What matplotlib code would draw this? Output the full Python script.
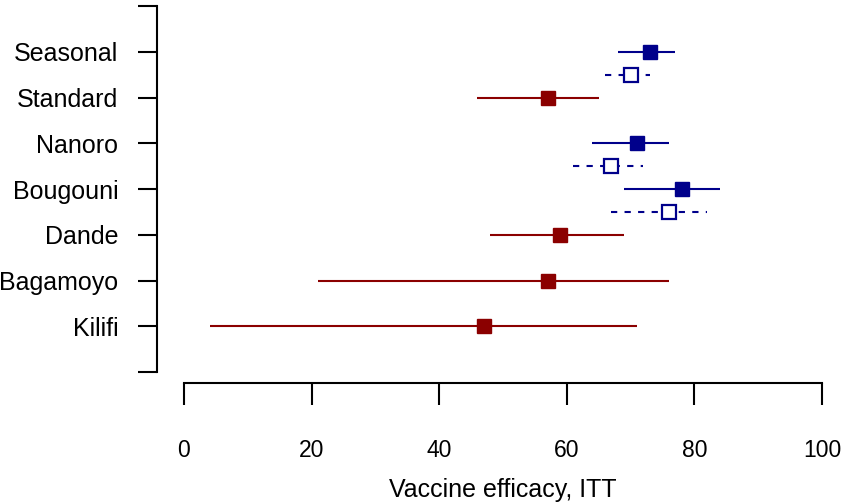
import numpy as np
import matplotlib.pyplot as plt

plt.rcParams['font.family'] = ['Liberation Sans', 'DejaVu Sans']

darkblue = '#00008B'
darkred = '#8B0000'

# rows, top to bottom
sites = ['Seasonal', 'Standard', 'Nanoro', 'Bougouni', 'Dande', 'Bagamoyo', 'Kilifi']
group = ['seasonal', 'standard', 'seasonal', 'seasonal', 'standard', 'standard', 'standard']

# vaccine efficacy, ITT (filled squares)
ve = [73, 57, 71, 78, 59, 57, 47]
ve_lo = [68, 46, 64, 69, 48, 21, 4]
ve_hi = [77, 65, 76, 84, 69, 76, 71]

# second estimate (open squares, dashed) - seasonal sites only
ve2 = [70, None, 67, 76, None, None, None]
ve2_lo = [66, None, 61, 67, None, None, None]
ve2_hi = [73, None, 72, 82, None, None, None]

colors = {'seasonal': darkblue, 'standard': darkred}

fig = plt.figure(figsize=(8.43, 5.04), dpi=100)
ax = fig.add_axes([184/843, 132/504, 638/843, 366/504])

n = len(sites)
ypos = np.arange(n, 0, -1)

for i in range(n):
    c = colors[group[i]]
    y = ypos[i]
    ax.plot([ve_lo[i], ve_hi[i]], [y, y], color=c, lw=1.5, solid_capstyle='butt', zorder=2)
    ax.plot(ve[i], y, marker='s', ms=10, color=c, mec=c, ls='none', zorder=3)
    if ve2[i] is not None:
        y2 = y - 0.5
        ax.plot([ve2_lo[i], ve2_hi[i]], [y2, y2], color=c, lw=1.5,
                ls=(0, (3, 3.5)), dash_capstyle='butt', zorder=2)
        ax.plot(ve2[i], y2, marker='s', ms=10, mfc='white', mec=c, mew=1.6,
                ls='none', zorder=3)

ax.set_xlim(0, 100)
ax.set_ylim(0, n + 1)

for s in ['top', 'right']:
    ax.spines[s].set_visible(False)
ax.spines['left'].set_position(('outward', 19.5))
ax.spines['bottom'].set_position(('outward', 8))
ax.spines['left'].set_bounds(0, n + 1)
ax.spines['bottom'].set_bounds(0, 100)
ax.spines['left'].set_linewidth(1.5)
ax.spines['bottom'].set_linewidth(1.5)

ax.set_yticks(np.arange(0, n + 2))
ax.set_yticklabels([''] + list(sites[::-1]) + [''])
ax.tick_params(axis='y', length=13.7, width=1.5, pad=14, labelsize=18)

ax.set_xticks(np.arange(0, 101, 20))
ax.tick_params(axis='x', length=16, width=1.5, pad=24, labelsize=16.5)
ax.set_xlabel('Vaccine efficacy, ITT', fontsize=18, labelpad=12)

fig.savefig('out.png', dpi=100)
